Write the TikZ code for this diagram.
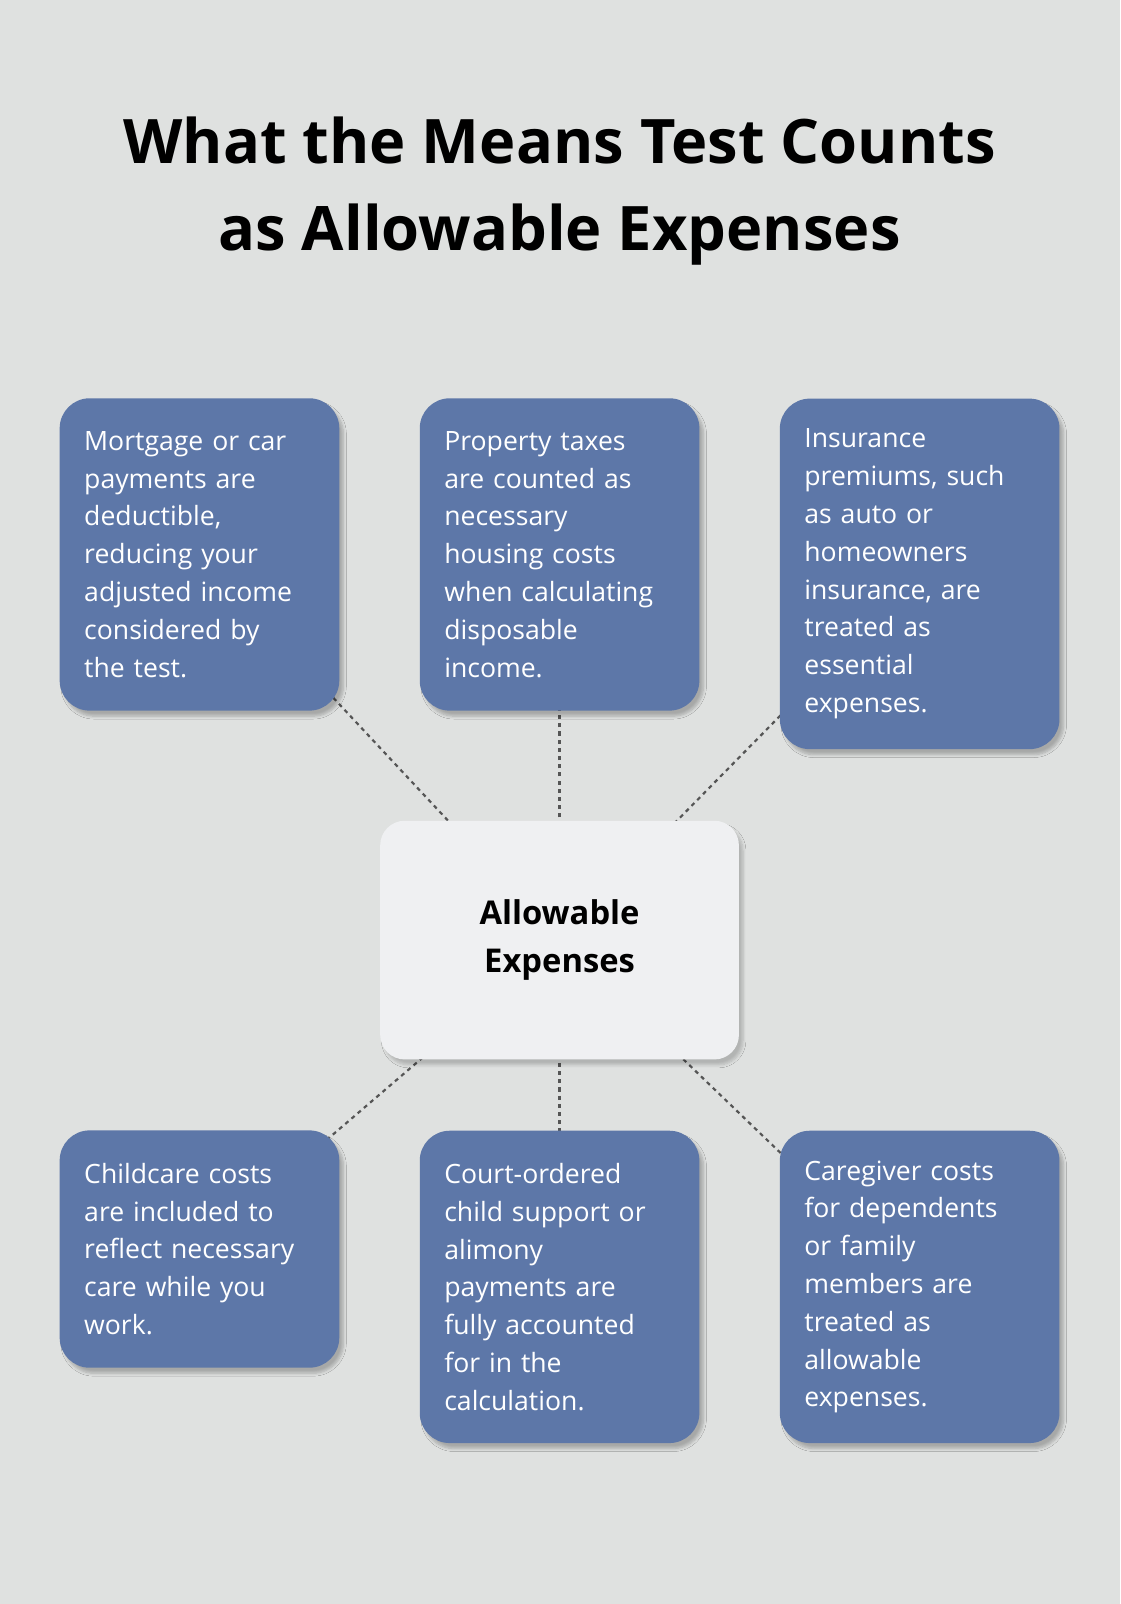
\documentclass[tikz,border=0pt]{standalone}
\usepackage{fontspec}
\setmainfont{Open Sans}
\usetikzlibrary{shadows.blur}
\definecolor{bg}{HTML}{DFE1E0}
\definecolor{boxc}{HTML}{5D77A8}
\definecolor{cen}{HTML}{EFF0F2}
\definecolor{ln}{HTML}{555555}
\begin{document}
\begin{tikzpicture}[x=0.75pt,y=-0.75pt,
 box/.style={fill=boxc,rounded corners=22pt,minimum width=205pt,text width=169pt,align=left,text=white,
   font=\fontsize{19.5}{27.7}\selectfont,blur shadow={shadow blur steps=6,shadow xshift=3pt,shadow yshift=-4pt,shadow opacity=25}},
 conn/.style={draw=ln,line width=1.6pt,dash pattern=on 3pt off 3pt}]
\fill[bg] (0,0) rectangle (1095,1568);
\useasboundingbox (0,0) rectangle (1095,1568);
\node[font=\bfseries\fontsize{45}{64}\selectfont,align=center] (title) at (547,187) {What the Means Test Counts\\as Allowable Expenses};
\coordinate (cc) at (547,919);
\coordinate (c1) at (195,542);\coordinate (c2) at (547,542);\coordinate (c3) at (899,561);
\coordinate (c4) at (195,1221);\coordinate (c5) at (547,1258);\coordinate (c6) at (899,1258);
\foreach \c in {c1,c2,c3,c4,c5,c6} \draw[conn] (cc) -- (\c);
\node[box,minimum height=229pt] (b1) at (c1) {Mortgage or car\\payments are\\deductible,\\reducing your\\adjusted income\\considered by\\the test.};
\node[box,minimum height=229pt] (b2) at (c2) {Property taxes\\are counted as\\necessary\\housing costs\\when calculating\\disposable\\income.};
\node[box,minimum height=257pt] (b3) at (c3) {Insurance\\premiums, such\\as auto or\\homeowners\\insurance, are\\treated as\\essential\\expenses.};
\node[box,minimum height=174pt] (b4) at (c4) {Childcare costs\\are included to\\reflect necessary\\care while you\\work.};
\node[box,minimum height=229pt] (b5) at (c5) {Court-ordered\\child support or\\alimony\\payments are\\fully accounted\\for in the\\calculation.};
\node[box,minimum height=229pt] (b6) at (c6) {Caregiver costs\\for dependents\\or family\\members are\\treated as\\allowable\\expenses.};
\node[fill=cen,rounded corners=18pt,minimum width=263pt,minimum height=175pt,align=center,
 font=\bfseries\fontsize{24}{35}\selectfont,blur shadow={shadow blur steps=6,shadow xshift=3pt,shadow yshift=-4pt,shadow opacity=20}] (center) at (cc) {Allowable\\Expenses};
\end{tikzpicture}
\end{document}
